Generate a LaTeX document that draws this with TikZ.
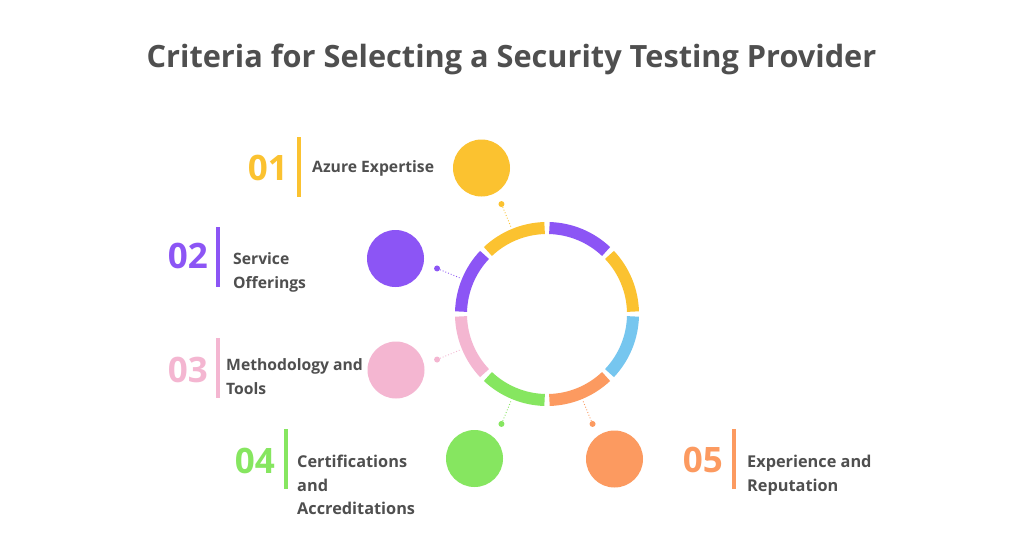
\documentclass[tikz,border=0pt]{standalone}
\usepackage{fontspec}
\setmainfont{Open Sans}
\usetikzlibrary{calc}
\definecolor{cyel}{HTML}{FBC230}
\definecolor{cpur}{HTML}{8C55F5}
\definecolor{cpink}{HTML}{F4B6D1}
\definecolor{cgreen}{HTML}{86E660}
\definecolor{corange}{HTML}{FC9A60}
\definecolor{cblue}{HTML}{76C6EF}
\definecolor{ctext}{HTML}{4F4F4F}
\tikzset{
  seg/.style={line width=12pt, draw=#1},
  bigdot/.style={circle, fill=#1, minimum size=57pt, inner sep=0pt},
  smalldot/.style={circle, fill=#1, minimum size=6pt, inner sep=0pt},
  leader/.style={draw=#1, line width=0.9pt, dotted},
  numtxt/.style={text=#1, font=\bfseries\fontsize{35}{35}\selectfont, anchor=base east, inner sep=0pt},
  vbar/.style={draw=#1, line width=3.5pt},
  lbl/.style={text=ctext, font=\bfseries\fontsize{15.7}{23.5}\selectfont, anchor=base west, align=left, inner sep=0pt},
  lblb/.style={lbl, font=\bfseries\fontsize{16.3}{23.5}\selectfont},
}
\begin{document}
\begin{tikzpicture}[x=1pt,y=1pt]
\useasboundingbox[fill=white] (0,0) rectangle (1024,-536);
\node[text=ctext, font=\bfseries\fontsize{30.7}{31}\selectfont, anchor=base, inner sep=0pt] (title) at (511.5,-67) {Criteria for Selecting a Security Testing Provider};
\coordinate (c) at (547,-314);
% ring
\foreach \a/\col in {45/cpur, 0/cyel, -45/cblue, -90/corange, -135/cgreen, -180/cpink, 135/cpur, 90/cyel}{
  \draw[seg=\col] ($(c)+(\a+1.6:86)$) arc[start angle=\a+1.6, end angle=\a+45-1.6, radius=86];
}
% items
\foreach \n/\ang/\col in {1/112.5/cyel, 2/157.5/cpur, 3/202.5/cpink, 4/247.5/cgreen, 5/292.5/corange}{
  \coordinate (r\n) at ($(c)+(\ang:93)$);
  \node[smalldot=\col] (d\n) at ($(c)+(\ang:119)$) {};
  \draw[leader=\col] (d\n) -- (r\n);
}
\node[bigdot=cyel] (b1) at (481.5,-168) {};
\node[bigdot=cpur] (b2) at (395.5,-258.5) {};
\node[bigdot=cpink] (b3) at (396,-370) {};
\node[bigdot=cgreen] (b4) at (474.5,-458.5) {};
\node[bigdot=corange] (b5) at (614.5,-459) {};
% bars
\draw[vbar=cyel] (299,-137) coordinate (t1) -- (299,-197) coordinate (u1);
\draw[vbar=cpur] (218,-227) coordinate (t2) -- (218,-287) coordinate (u2);
\draw[vbar=cpink] (218,-338) coordinate (t3) -- (218,-398) coordinate (u3);
\draw[vbar=cgreen] (286,-429) coordinate (t4) -- (286,-489) coordinate (u4);
\draw[vbar=corange] (734,-429) coordinate (t5) -- (734,-489) coordinate (u5);
% numbers
\node[numtxt=cyel] (n1) at (288,-180) {01};
\node[numtxt=cpur] (n2) at (208,-268) {02};
\node[numtxt=cpink] (n3) at (208,-382) {03};
\node[numtxt=cgreen] (n4) at (275,-473) {04};
\node[numtxt=corange] (n5) at (723,-472) {05};
% labels (base = last line)
\node[lbl] (l1) at (312,-172.5) {Azure Expertise};
\node[lbl] (l2) at (233,-288) {Service\\Offerings};
\node[lbl] (l3) at (226,-394) {Methodology and\\Tools};
\node[lblb] (l4) at (297,-514.5) {Certifications\\and\\Accreditations};
\node[lblb] (l5) at (747,-491) {Experience and\\Reputation};
\end{tikzpicture}
\end{document}
